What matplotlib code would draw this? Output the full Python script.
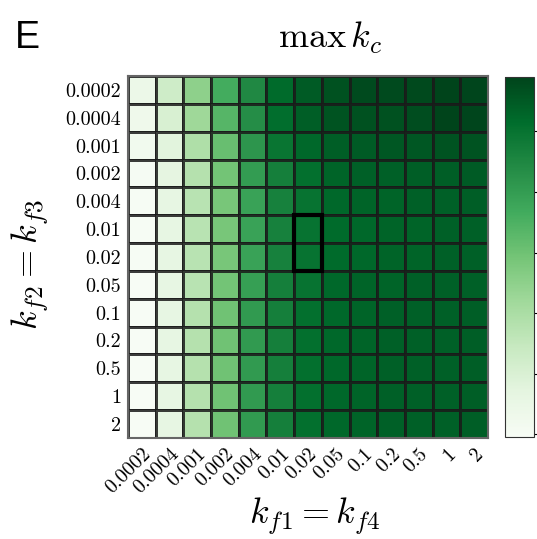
import numpy as np
import matplotlib.pyplot as plt
from matplotlib.patches import Rectangle

plt.rcParams['mathtext.fontset'] = 'cm'

# rate constants on both axes
kf_labels = ['0.0002', '0.0004', '0.001', '0.002', '0.004', '0.01', '0.02',
             '0.05', '0.1', '0.2', '0.5', '1', '2']

# max k_c, rows: k_f2 = k_f3, columns: k_f1 = k_f4
kc_rows = [
    [1.44, 2.27, 3.51, 4.64, 5.47, 6.19, 6.48, 6.66, 6.78, 6.78, 6.80, 6.90, 6.86],
    [1.32, 2.03, 3.22, 4.35, 5.36, 6.13, 6.42, 6.60, 6.66, 6.66, 6.72, 6.90, 6.86],
    [1.20, 1.79, 2.92, 4.11, 5.18, 5.95, 6.25, 6.42, 6.48, 6.54, 6.54, 6.60, 6.60],
    [1.05, 1.67, 2.80, 3.93, 5.00, 5.71, 6.07, 6.31, 6.37, 6.37, 6.42, 6.42, 6.48],
    [1.02, 1.61, 2.74, 3.87, 4.88, 5.65, 6.01, 6.25, 6.31, 6.31, 6.37, 6.37, 6.42],
    [1.00, 1.61, 2.74, 3.87, 4.88, 5.65, 6.01, 6.19, 6.25, 6.31, 6.31, 6.37, 6.37],
    [0.99, 1.61, 2.74, 3.87, 4.88, 5.65, 6.01, 6.19, 6.25, 6.31, 6.31, 6.37, 6.37],
    [0.98, 1.61, 2.74, 3.93, 4.94, 5.71, 6.01, 6.25, 6.31, 6.31, 6.37, 6.37, 6.37],
    [0.97, 1.61, 2.80, 3.99, 5.06, 5.71, 6.07, 6.25, 6.31, 6.37, 6.37, 6.37, 6.42],
    [0.97, 1.61, 2.80, 3.99, 5.06, 5.71, 6.07, 6.25, 6.31, 6.37, 6.37, 6.37, 6.42],
    [0.96, 1.61, 2.80, 3.99, 5.06, 5.71, 6.07, 6.25, 6.31, 6.37, 6.37, 6.37, 6.42],
    [0.96, 1.61, 2.80, 3.99, 5.06, 5.71, 6.07, 6.25, 6.31, 6.37, 6.37, 6.37, 6.42],
    [0.96, 1.61, 2.80, 3.99, 5.06, 5.71, 6.07, 6.25, 6.31, 6.37, 6.37, 6.37, 6.42],
]
# highlighted block: column index, first row, number of rows
box_col, box_row, box_rows = 6, 5, 2

kc = np.array(kc_rows)
n = len(kf_labels)

fig = plt.figure(figsize=(5.37, 5.39), dpi=100)
ax = fig.add_axes([0.2384, 0.1874, 0.6704, 0.6716])
cax = fig.add_axes([0.9404, 0.1896, 0.054, 0.6679])

mesh = ax.pcolormesh(kc, cmap='Greens', edgecolors=(0.1, 0.1, 0.1, 0.85),
                     linewidth=0.85)
ax.set_xlim(0, n)
ax.set_ylim(n, 0)
ax.add_patch(Rectangle((box_col, box_row), 1, box_rows, fill=False,
                       edgecolor='black', linewidth=3, zorder=5))

tick_font = dict(family='cmr10', size=14.5)
ax.set_xticks(np.arange(n) + 0.5)
ax.set_yticks(np.arange(n) + 0.5)
ax.set_xticklabels(kf_labels, rotation=45, ha='right', rotation_mode='anchor',
                   fontdict=tick_font)
ax.set_yticklabels(kf_labels, fontdict=tick_font)
ax.tick_params(length=0, pad=5)
for s in ax.spines.values():
    s.set_color('#666666')
    s.set_linewidth(1.5)

cb = fig.colorbar(mesh, cax=cax)
cb.outline.set_edgecolor('#333333')
cb.ax.tick_params(length=4, direction='out')
cb.ax.set_yticklabels([])

fig.text(0.587, 0.042, r'$k_{f1} = k_{f4}$', fontsize=26, ha='center', va='center')
fig.text(0.056, 0.51, r'$k_{f2} = k_{f3}$', fontsize=26, ha='center',
         va='center', rotation=90)
fig.text(0.615, 0.93, r'$\max\, k_c$', fontsize=26, ha='center', va='center')
fig.text(0.028, 0.93, 'E', fontsize=27, fontfamily='Liberation Sans',
         ha='left', va='center')

fig.savefig('out.png', dpi=100)
